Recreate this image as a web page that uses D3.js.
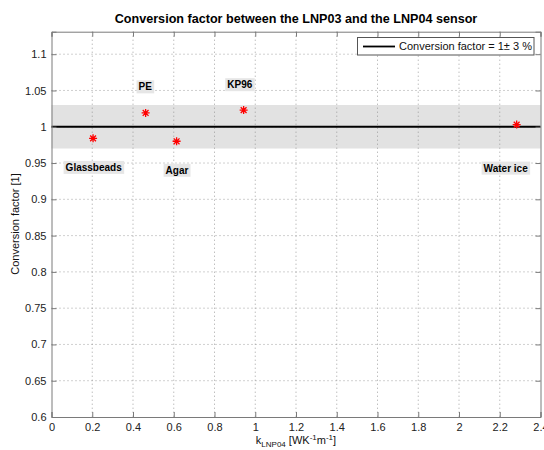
<!DOCTYPE html>
<html>
<head>
<meta charset="utf-8">
<script src="https://cdn.jsdelivr.net/npm/d3@7"></script>
<style>
  body { margin: 0; background: #fff; }
  text { font-family: "Liberation Sans", Arial, sans-serif; }
</style>
</head>
<body>
<svg id="chart" width="544" height="450"></svg>
<script>
// Materials and measured values
const materials = ["Glassbeads", "PE", "Agar", "KP96", "Water ice"];
const kValues = [0.204, 0.462, 0.614, 0.943, 2.283];
const factors = [0.984, 1.019, 0.980, 1.023, 1.003];
// Label placement offsets (in data units) for each material
const labelDx = [0.003, -0.002, 0.002, -0.019, -0.054];
const labelDy = [-0.040, 0.036, -0.040, 0.035, -0.060];

const xTicks = [0, 0.2, 0.4, 0.6, 0.8, 1, 1.2, 1.4, 1.6, 1.8, 2, 2.2, 2.4];
const yTicks = [0.6, 0.65, 0.7, 0.75, 0.8, 0.85, 0.9, 0.95, 1, 1.05, 1.1];
const nominal = 1;
const tolerance = 0.03;

const svg = d3.select("#chart");
const m = { left: 51.5, right: 540.5, top: 31.7, bottom: 417 };

const x = d3.scaleLinear().domain([0, 2.4]).range([m.left, m.right]);
const y = d3.scaleLinear().domain([0.6, 1.131]).range([m.bottom, m.top]);

// tolerance band
svg.append("rect")
  .attr("x", x(0)).attr("width", x(2.4) - x(0))
  .attr("y", y(nominal + tolerance))
  .attr("height", y(nominal - tolerance) - y(nominal + tolerance))
  .attr("fill", "#e2e2e2");

// grid
const grid = svg.append("g").attr("stroke", "#8a8a8a").attr("stroke-width", 0.8)
  .attr("stroke-dasharray", "1,3");
grid.selectAll(".gx").data(xTicks.slice(1, -1)).join("line")
  .attr("x1", d => x(d)).attr("x2", d => x(d))
  .attr("y1", m.top).attr("y2", m.bottom);
grid.selectAll(".gy").data(yTicks.slice(1)).join("line")
  .attr("x1", m.left).attr("x2", m.right)
  .attr("y1", d => y(d)).attr("y2", d => y(d));

// nominal line
svg.append("line")
  .attr("x1", x(0)).attr("x2", x(2.4))
  .attr("y1", y(nominal)).attr("y2", y(nominal))
  .attr("stroke", "#000").attr("stroke-width", 1.8);

// axes
const xAxis = d3.axisBottom(x).tickValues(xTicks).tickSize(-5).tickPadding(6)
  .tickFormat(d3.format("~g"));
const yAxis = d3.axisLeft(y).tickValues(yTicks).tickSize(-5).tickPadding(5)
  .tickFormat(d3.format("~g"));
const xTop = d3.axisTop(x).tickValues(xTicks).tickSize(-5).tickFormat("");
const yRight = d3.axisRight(y).tickValues(yTicks).tickSize(-5).tickFormat("");

function style(g) {
  g.select(".domain").attr("stroke", "#7a7a7a");
  g.selectAll(".tick line").attr("stroke", "#7a7a7a");
  g.selectAll(".tick text").attr("fill", "#222").attr("font-size", 11)
    .attr("font-family", "Liberation Sans, Arial, sans-serif");
}
svg.append("g").attr("transform", `translate(0,${m.bottom})`).call(xAxis).call(style);
svg.append("g").attr("transform", `translate(${m.left},0)`).call(yAxis).call(style);
svg.append("g").attr("transform", `translate(0,${m.top})`).call(xTop).call(style);
svg.append("g").attr("transform", `translate(${m.right},0)`).call(yRight).call(style);

// markers
const star = "M-4,0H4M0,-4V4M-2.9,-2.9L2.9,2.9M-2.9,2.9L2.9,-2.9";
svg.append("g").selectAll("path").data(kValues).join("path")
  .attr("transform", (d, i) => `translate(${x(d)},${y(factors[i])})`)
  .attr("d", star).attr("stroke", "#ff0000").attr("stroke-width", 1.3)
  .attr("fill", "none");

// material labels with shaded boxes
const labels = svg.append("g");
materials.forEach((name, i) => {
  const g = labels.append("g")
    .attr("transform", `translate(${x(kValues[i] + labelDx[i])},${y(factors[i] + labelDy[i])})`);
  const t = g.append("text").text(name)
    .attr("text-anchor", "middle").attr("dy", "0.35em")
    .attr("font-size", 10).attr("font-weight", "bold").attr("fill", "#000");
  const bb = t.node().getBBox();
  g.insert("rect", "text")
    .attr("x", bb.x - 2).attr("y", bb.y - 1)
    .attr("width", bb.width + 4).attr("height", bb.height + 2)
    .attr("fill", "#e6e6e6");
});

// legend
const lg = svg.append("g");
lg.append("rect").attr("x", 357.5).attr("y", 37.5).attr("width", 176.5).attr("height", 17.5)
  .attr("fill", "#fff").attr("stroke", "#555").attr("stroke-width", 1);
lg.append("line").attr("x1", 363).attr("x2", 395).attr("y1", 46.5).attr("y2", 46.5)
  .attr("stroke", "#000").attr("stroke-width", 1.8);
lg.append("text").attr("x", 399).attr("y", 46.5).attr("dy", "0.35em")
  .attr("font-size", 11).attr("fill", "#111")
  .text("Conversion factor = 1\u00B1 3 %");

// title
svg.append("text").attr("x", (m.left + m.right) / 2).attr("y", 23)
  .attr("text-anchor", "middle").attr("font-size", 12.6).attr("font-weight", "bold")
  .attr("fill", "#000")
  .text("Conversion factor between the LNP03 and the LNP04 sensor");

// axis labels
const xl = svg.append("text").attr("x", (m.left + m.right) / 2).attr("y", 444)
  .attr("text-anchor", "middle").attr("font-size", 11).attr("fill", "#111");
xl.append("tspan").text("k");
xl.append("tspan").attr("font-size", 8).attr("dy", 2.5).text("LNP04");
xl.append("tspan").attr("dy", -2.5).text(" [WK");
xl.append("tspan").attr("font-size", 8).attr("dy", -4).text("-1");
xl.append("tspan").attr("dy", 4).text("m");
xl.append("tspan").attr("font-size", 8).attr("dy", -4).text("-1");
xl.append("tspan").attr("dy", 4).text("]");

svg.append("text")
  .attr("transform", `translate(19,224) rotate(-90)`)
  .attr("text-anchor", "middle").attr("font-size", 11).attr("fill", "#111")
  .text("Conversion factor [1]");
</script>
</body>
</html>
